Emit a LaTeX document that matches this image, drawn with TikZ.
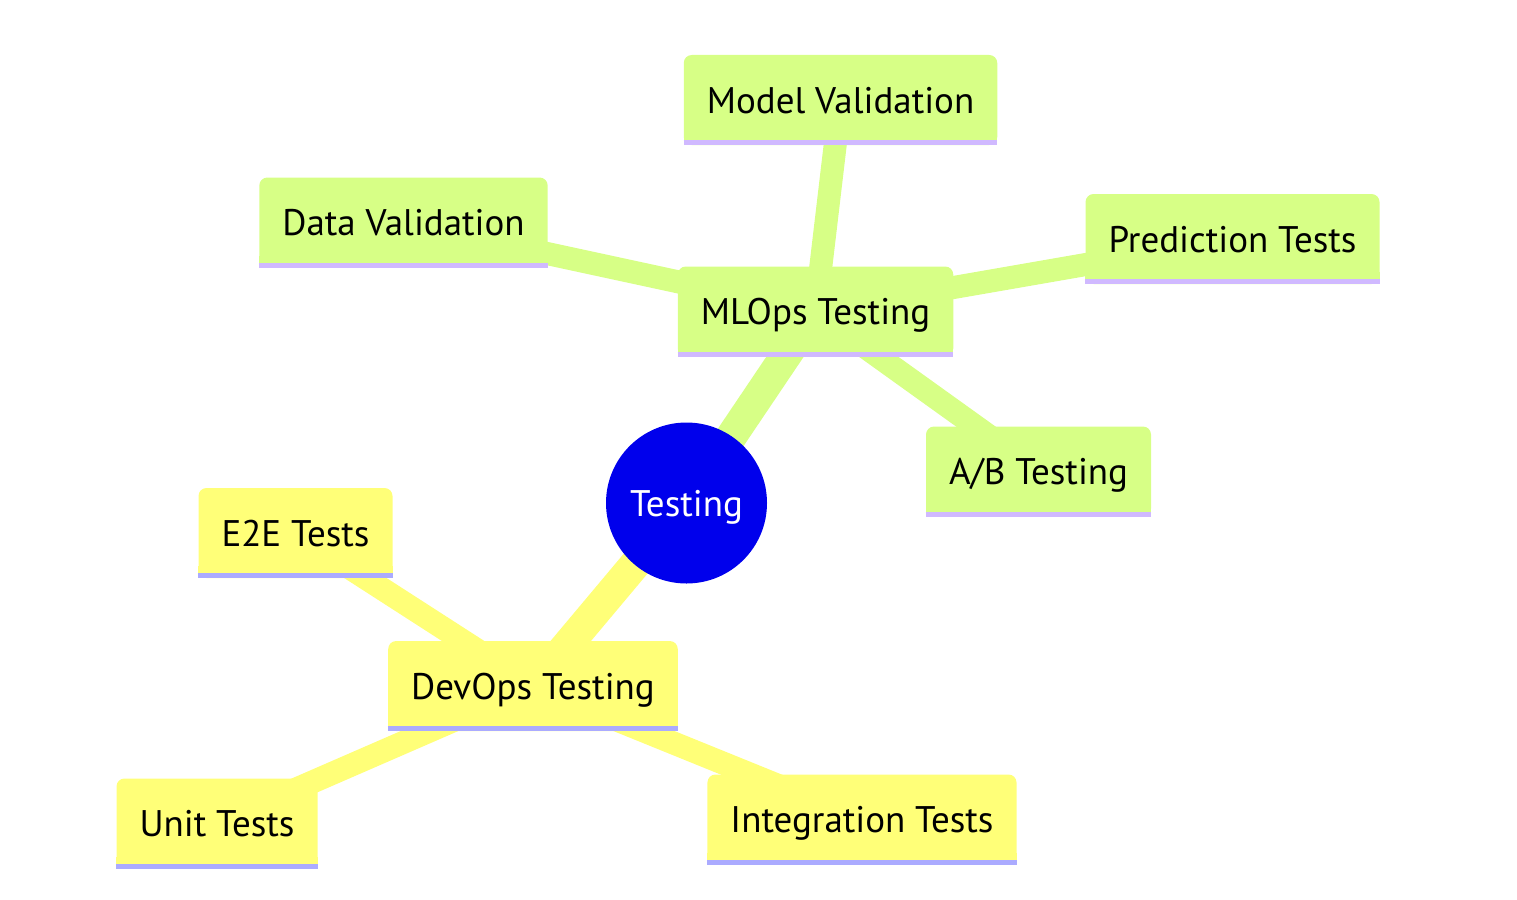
\documentclass[tikz,border=0pt]{standalone}
\usepackage{fontspec}
\setmainfont{PT Sans}
\usepackage{tikz}
\usetikzlibrary{backgrounds}
\definecolor{rootblue}{HTML}{0000EC}
\definecolor{mlfill}{HTML}{D7FF86}
\definecolor{mlline}{HTML}{D0B9FF}
\definecolor{devfill}{HTML}{FFFF78}
\definecolor{devline}{HTML}{ABABFF}
\tikzset{
  leaf/.style={rounded corners=8pt, inner xsep=23pt, inner ysep=0pt, minimum height=90pt,
    text height=35pt, text depth=9pt, font=\fontsize{37}{44}\selectfont},
  mlleaf/.style={leaf, fill=mlfill},
  devleaf/.style={leaf, fill=devfill},
  hub/.style={circle, fill=rootblue, minimum size=161pt, inner sep=0pt, text=white,
    text height=35pt, text depth=9pt, font=\fontsize{37}{44}\selectfont},
  mltrunk/.style={draw=mlfill, line width=31pt},
  devtrunk/.style={draw=devfill, line width=31pt},
  mlbranch/.style={draw=mlfill, line width=23pt},
  devbranch/.style={draw=devfill, line width=23pt}
}
\newcommand{\FlatBaseAt}[3]{%
  \fill[#2] (#1.south west) rectangle ([yshift=12pt]#1.south east);
  \draw[#3, line width=5pt] ([yshift=2.5pt]#1.south west) -- ([yshift=2.5pt]#1.south east);
}

\begin{document}
\begin{tikzpicture}[x=1pt, y=-1pt]
  \useasboundingbox (0,0) rectangle (1517,899);

  \node[hub] (root) at (686.5,503) {Testing};

  \node[mlleaf] (mlops) at (815.5,311.5) {MLOps Testing};
  \node[mlleaf] (model) at (840.5,100) {Model Validation};
  \node[mlleaf] (data) at (403.5,222.5) {Data Validation};
  \node[mlleaf] (pred) at (1232.5,239) {Prediction Tests};
  \node[mlleaf] (ab) at (1038.5,471.5) {A/B Testing};

  \node[devleaf] (devops) at (533,686) {DevOps Testing};
  \node[devleaf] (e2e) at (295.5,533) {E2E Tests};
  \node[devleaf] (unit) at (217,823.5) {Unit Tests};
  \node[devleaf] (integ) at (862,819.5) {Integration Tests};

  \foreach \n in {mlops,model,data,pred,ab}{\FlatBaseAt{\n}{mlfill}{mlline}}
  \foreach \n in {devops,e2e,unit,integ}{\FlatBaseAt{\n}{devfill}{devline}}

  % edges go behind the boxes
  \begin{pgfonlayer}{background}
    \draw[mltrunk] (root.center) -- (mlops.center);
    \draw[devtrunk] (root.center) -- (devops.center);
    \foreach \n in {model,data,pred,ab}{\draw[mlbranch] (mlops.center) -- (\n.center);}
    \foreach \n in {e2e,unit,integ}{\draw[devbranch] (devops.center) -- (\n.center);}
  \end{pgfonlayer}
\end{tikzpicture}
\end{document}
